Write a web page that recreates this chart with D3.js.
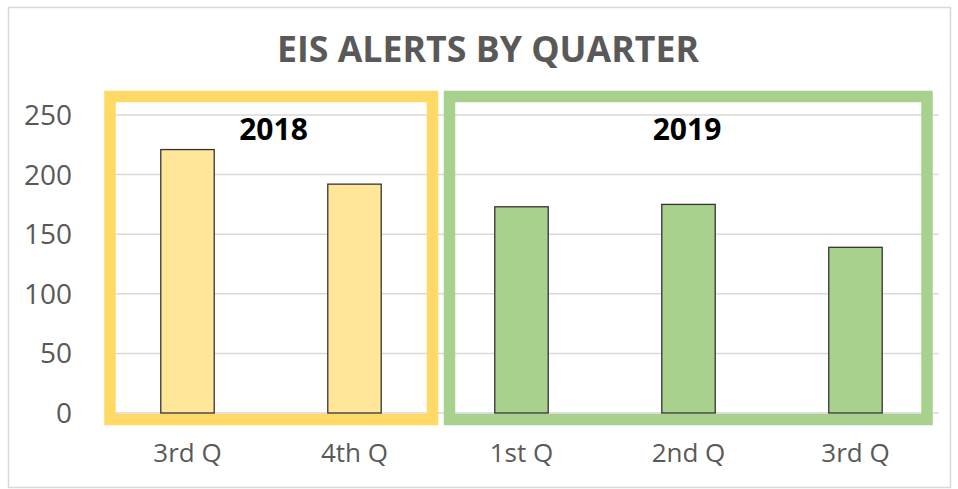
<!DOCTYPE html>
<html>
<head>
<meta charset="utf-8">
<script src="https://cdn.jsdelivr.net/npm/d3@7"></script>
<style>
  body { margin: 0; background: #fff; }
  text { font-family: "Open Sans", sans-serif; }
</style>
</head>
<body>
<script>
var quarters = ["3rd Q", "4th Q", "1st Q", "2nd Q", "3rd Q"];
var alerts = [221, 192, 173, 175, 139];
var years = ["2018", "2019"];
var yearOfBar = [0, 0, 1, 1, 1];
var yTicks = [0, 50, 100, 150, 200, 250];

var width = 958, height = 489;
var boxColor = ["#ffd966", "#a9d18e"], barColor = ["#ffe699", "#a9d18e"];

var svg = d3.select("body").append("svg").attr("width", width).attr("height", height);

// outer chart frame
svg.append("rect").attr("x", 8.5).attr("y", 7.5).attr("width", 942).attr("height", 480)
	.attr("fill", "#fff").attr("stroke", "#d9d9d9").attr("stroke-width", 1.5);

var x = d3.scaleBand().domain(d3.range(quarters.length)).range([104, 939])
	.paddingInner(0.68).paddingOuter(0.34);
var y = d3.scaleLinear().domain([0, 250]).range([413, 115]);

// gridlines
svg.append("g").selectAll("line").data(yTicks).enter().append("line")
	.attr("x1", 104).attr("x2", 939)
	.attr("y1", function(d){ return y(d); }).attr("y2", function(d){ return y(d); })
	.attr("stroke", "#d9d9d9").attr("stroke-width", 1.5);

// y tick labels
svg.append("g").selectAll("text").data(yTicks).enter().append("text")
	.attr("x", 72).attr("y", function(d){ return y(d); }).attr("dy", "0.36em")
	.attr("text-anchor", "end").attr("font-size", 28).attr("fill", "#595959")
	.text(function(d){ return d; });

// year boxes
var step = x.step();
years.forEach(function(yr, i){
	var idx = d3.range(quarters.length).filter(function(k){ return yearOfBar[k] == i; });
	var x0 = x(idx[0]) - x.paddingOuter() * step, x1 = x(idx[idx.length-1]) + x.bandwidth() + x.paddingOuter() * step;
	var inset = i == 0 ? [6, 5.5] : [11.5, 12];
	svg.append("rect").attr("x", x0 + inset[0]).attr("y", 96.5)
		.attr("width", x1 - x0 - inset[0] - inset[1]).attr("height", 323)
		.attr("fill", "none").attr("stroke", boxColor[i]).attr("stroke-width", 11.5);
	svg.append("text").attr("x", i == 0 ? 273.5 : 687).attr("y", 140)
		.attr("text-anchor", "middle").attr("font-size", 30).attr("font-weight", "bold")
		.attr("fill", "#000").text(yr);
});

// bars
svg.append("g").selectAll("rect").data(alerts).enter().append("rect")
	.attr("x", function(d, i){ return x(i); }).attr("width", x.bandwidth())
	.attr("y", function(d){ return y(d); }).attr("height", function(d){ return y(0) - y(d); })
	.attr("fill", function(d, i){ return barColor[yearOfBar[i]]; })
	.attr("stroke", "#333").attr("stroke-width", 1.3);

// category labels
svg.append("g").selectAll("text").data(quarters).enter().append("text")
	.attr("x", function(d, i){ return x(i) + x.bandwidth()/2; }).attr("y", 462)
	.attr("text-anchor", "middle").attr("font-size", 26).attr("fill", "#595959")
	.text(function(d){ return d; });

// title
svg.append("text").attr("x", 277).attr("y", 62).attr("font-size", 35).attr("font-weight", "bold")
	.attr("fill", "#595959").attr("textLength", 422).attr("lengthAdjust", "spacingAndGlyphs")
	.text("EIS ALERTS BY QUARTER");
</script>
</body>
</html>
